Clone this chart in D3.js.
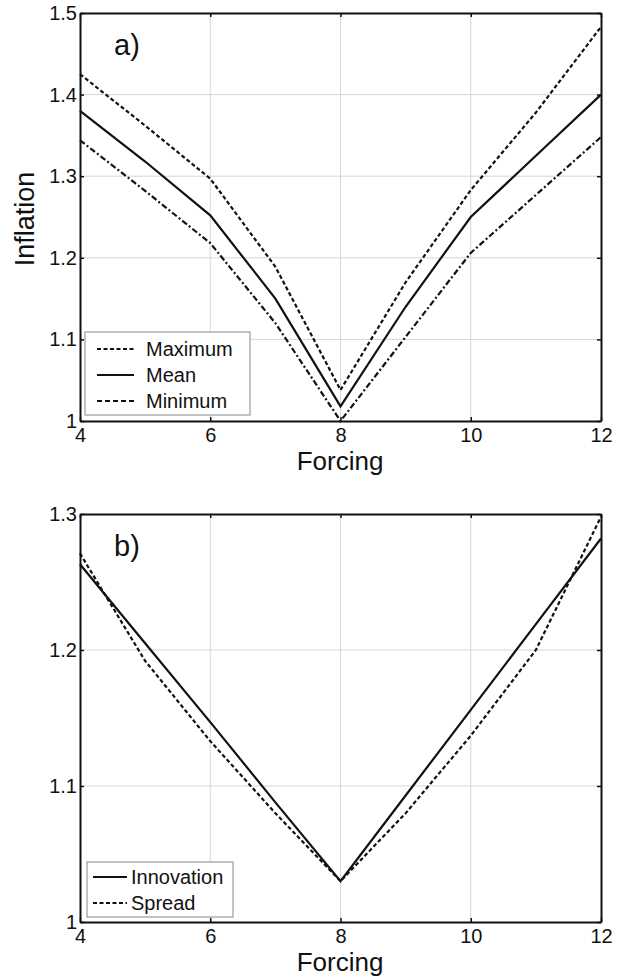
<!DOCTYPE html>
<html>
<head>
<meta charset="utf-8">
<script src="https://cdn.jsdelivr.net/npm/d3@7"></script>
<style>
  body { margin: 0; background: #fff; }
  svg text { font-family: "Liberation Sans", Arial, sans-serif; fill: #111; }
</style>
</head>
<body>
<div id="chart"></div>
<script>
// forcing values shared by both panels
const forcing = [4, 5, 6, 7, 8, 9, 10, 11, 12];

// panel a)
const inflMax  = [1.425, 1.362, 1.297, 1.189, 1.038, 1.170, 1.283, 1.378, 1.483];
const inflMean = [1.380, 1.318, 1.252, 1.150, 1.018, 1.140, 1.250, 1.325, 1.400];
const inflMin  = [1.344, 1.282, 1.218, 1.120, 1.000, 1.103, 1.206, 1.277, 1.348];

// panel b)
const innovation = [1.263, 1.205, 1.147, 1.088, 1.030, 1.093, 1.156, 1.219, 1.282];
const spread     = [1.271, 1.192, 1.133, 1.080, 1.030, 1.080, 1.137, 1.200, 1.298];

const xTicks = [4, 6, 8, 10, 12];
const yTicksA = [1, 1.1, 1.2, 1.3, 1.4, 1.5];
const yTicksB = [1, 1.1, 1.2, 1.3];

const W = 622, H = 977;
const svg = d3.select("#chart").append("svg")
    .attr("width", W)
    .attr("height", H);

function panel(opts) {
    const x = d3.scaleLinear().domain([4, 12]).range([80, 601]);
    const y = d3.scaleLinear().domain(opts.yDomain).range([opts.bottom, opts.top]);
    const g = svg.append("g");

    // grid
    g.selectAll(".gx").data(xTicks.slice(1, -1)).join("line")
        .attr("x1", d => x(d)).attr("x2", d => x(d))
        .attr("y1", opts.top).attr("y2", opts.bottom)
        .attr("stroke", "#d6d6d6").attr("stroke-width", 1);
    g.selectAll(".gy").data(opts.yTicks.slice(1, -1)).join("line")
        .attr("x1", 80).attr("x2", 601)
        .attr("y1", d => y(d)).attr("y2", d => y(d))
        .attr("stroke", "#d6d6d6").attr("stroke-width", 1);

    // axes with inward ticks on all four sides
    const fmt = d => String(+d.toFixed(1));
    const bottomAx = g.append("g").attr("transform", `translate(0,${opts.bottom})`)
        .call(d3.axisBottom(x).tickValues(xTicks).tickSizeInner(-4).tickSizeOuter(0).tickPadding(7));
    const leftAx = g.append("g").attr("transform", "translate(80,0)")
        .call(d3.axisLeft(y).tickValues(opts.yTicks).tickFormat(fmt).tickSizeInner(-4).tickSizeOuter(0).tickPadding(3));
    g.append("g").attr("transform", `translate(0,${opts.top})`)
        .call(d3.axisTop(x).tickValues(xTicks).tickSizeInner(-4).tickSizeOuter(0).tickFormat(""));
    g.append("g").attr("transform", "translate(601,0)")
        .call(d3.axisRight(y).tickValues(opts.yTicks).tickSizeInner(-4).tickSizeOuter(0).tickFormat(""));
    g.selectAll(".domain").attr("stroke", "#111").attr("stroke-width", 2);
    g.selectAll(".tick line").attr("stroke", "#111").attr("stroke-width", 1.5);
    [bottomAx, leftAx].forEach(a => a.selectAll("text")
        .attr("font-size", 20)
        .attr("font-family", "Liberation Sans, Arial, sans-serif")
        .attr("fill", "#222"));

    // series
    const line = d3.line().x((d, i) => x(forcing[i])).y(d => y(d));
    opts.series.forEach(s => {
        g.append("path").datum(s.values)
            .attr("fill", "none")
            .attr("stroke", "#111")
            .attr("stroke-width", s.width)
            .attr("stroke-dasharray", s.dash)
            .attr("d", line);
    });

    // panel label
    g.append("text").attr("x", 114).attr("y", opts.top + 42)
        .attr("font-family", "Liberation Serif, Times New Roman, serif")
        .attr("font-size", 29).text(opts.label);

    // x label
    g.append("text").attr("x", 340).attr("y", opts.bottom + 49)
        .attr("text-anchor", "middle").attr("font-size", 26).text("Forcing");

    // legend
    const L = opts.legend;
    g.append("rect").attr("x", L.x).attr("y", L.y).attr("width", L.w).attr("height", L.h)
        .attr("fill", "#fff").attr("stroke", "#888").attr("stroke-width", 1);
    opts.series.forEach((s, i) => {
        const yy = L.y + L.first + i * L.step;
        g.append("line").attr("x1", L.x + L.l0).attr("x2", L.x + L.l1)
            .attr("y1", yy).attr("y2", yy)
            .attr("stroke", "#111").attr("stroke-width", s.width)
            .attr("stroke-dasharray", s.legendDash || s.dash);
        g.append("text").attr("x", L.x + L.tx).attr("y", yy + 7)
            .attr("font-size", 20).text(s.name);
    });
    return { x, y };
}

panel({
    top: 13, bottom: 421, yDomain: [1, 1.5], yTicks: yTicksA, label: "a)",
    series: [
        { name: "Maximum", values: inflMax, width: 2.2, dash: "4,2.5" },
        { name: "Mean", values: inflMean, width: 2.2, dash: null },
        { name: "Minimum", values: inflMin, width: 2.2, dash: "6,2.5,2,2.5", legendDash: "5,3" }
    ],
    legend: { x: 85, y: 332, w: 165, h: 83, first: 17, step: 26, l0: 12, l1: 49, tx: 61 }
});

panel({
    top: 514, bottom: 922, yDomain: [1, 1.3], yTicks: yTicksB, label: "b)",
    series: [
        { name: "Innovation", values: innovation, width: 2.2, dash: null },
        { name: "Spread", values: spread, width: 2.2, dash: "4,2.5" }
    ],
    legend: { x: 87, y: 862, w: 146, h: 55, first: 15, step: 26, l0: 6, l1: 40, tx: 44 }
});

// y label (top panel only)
svg.append("text")
    .attr("transform", "translate(34,219) rotate(-90)")
    .attr("text-anchor", "middle").attr("font-size", 27).text("Inflation");
</script>
</body>
</html>
